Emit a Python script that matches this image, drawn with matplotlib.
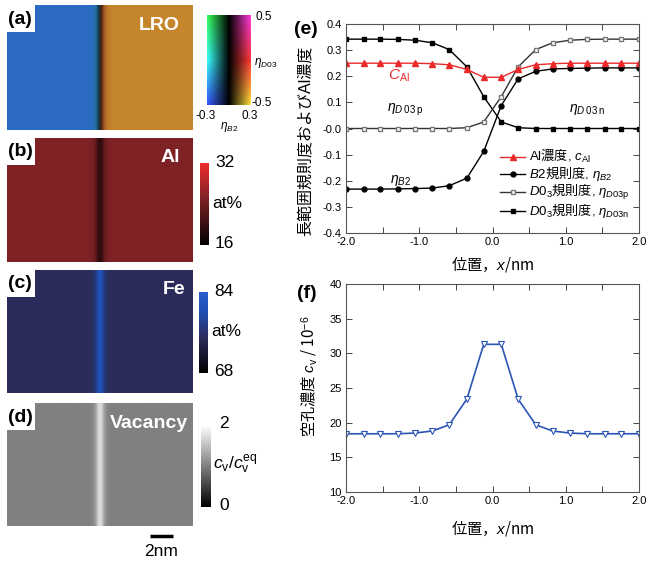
import numpy as np
import matplotlib
matplotlib.use('Agg')
import matplotlib.pyplot as plt
from matplotlib.colors import LinearSegmentedColormap, hsv_to_rgb
from matplotlib.patches import Rectangle
import matplotlib.transforms as mtransforms

plt.rcParams['font.family'] = ['Liberation Sans', 'Noto Sans CJK JP', 'DejaVu Sans']
plt.rcParams['mathtext.fontset'] = 'custom'
plt.rcParams['mathtext.rm'] = 'Liberation Sans'
plt.rcParams['mathtext.it'] = 'Liberation Sans:italic'
plt.rcParams['mathtext.bf'] = 'Liberation Sans:bold'
plt.rcParams['mathtext.sf'] = 'Noto Sans CJK JP'  # Japanese words inside math strings
plt.rcParams['axes.unicode_minus'] = False
JP = 'Noto Sans CJK JP'

# profile across the interface (nm)
x_nm = [-2.0, -1.76, -1.53, -1.29, -1.06, -0.82, -0.59, -0.35, -0.12,
        0.12, 0.35, 0.59, 0.82, 1.06, 1.29, 1.53, 1.76, 2.0]
c_al = [0.250, 0.250, 0.250, 0.250, 0.250, 0.248, 0.244, 0.226, 0.196,
        0.196, 0.226, 0.244, 0.248, 0.250, 0.250, 0.250, 0.250, 0.250]
eta_b2 = [-0.232, -0.232, -0.232, -0.231, -0.230, -0.228, -0.219, -0.190, -0.088,
          0.088, 0.190, 0.219, 0.228, 0.230, 0.231, 0.232, 0.232, 0.232]
eta_d03n = [0.342, 0.342, 0.342, 0.341, 0.338, 0.328, 0.302, 0.236, 0.122,
            0.025, 0.003, 0.0, 0.0, 0.0, 0.0, 0.0, 0.0, 0.0]
eta_d03p = [0.0, 0.0, 0.0, 0.0, 0.0, 0.0, 0.0, 0.003, 0.025,
            0.122, 0.236, 0.302, 0.328, 0.338, 0.341, 0.342, 0.342, 0.342]
c_vac = [18.4, 18.4, 18.4, 18.4, 18.5, 18.8, 19.7, 23.4, 31.3,
         31.3, 23.4, 19.7, 18.8, 18.5, 18.4, 18.4, 18.4, 18.4]  # x10^-6

W, H = 648, 562
fig = plt.figure(figsize=(W / 100, H / 100), dpi=100)


def px_axes(l, t, r, b):
    return fig.add_axes([l / W, 1 - b / H, (r - l) / W, (b - t) / H])


def ftext(x, y, s, **kw):
    fig.text(x / W, 1 - y / H, s, **kw)


# ---- maps (a)-(d): profile stretched over a 16 nm wide field ----
pad = 26
step = (x_nm[-1] - x_nm[0]) / (len(x_nm) - 1)
ext = [x_nm[0] - (pad + 0.5) * step, x_nm[-1] + (pad + 0.5) * step, 0, 1]


def strip(vals):
    row = np.pad(np.asarray(vals, float), pad, mode='edge')
    return np.tile(row, (4, 1))


def lro_rgb(b2, d03):
    y = np.clip(np.asarray(d03) / 0.58, -1, 1)
    b2 = np.asarray(b2)
    hue = (np.where(b2 < 0, 180 - 60 * y, 360 - 60 * y) % 360) / 360
    val = np.clip(np.abs(b2) / 0.30, 0, 1)
    sat = np.full_like(hue, 0.78)
    return hsv_to_rgb(np.stack([hue, sat, val], -1))


cmap_al = LinearSegmentedColormap.from_list(
    'al', [(0, '#000000'), (0.56, '#7d2226'), (1, '#ee2c2c')])
cmap_fe = LinearSegmentedColormap.from_list(
    'fe', [(0, '#000000'), (0.44, '#2c2c5c'), (0.78, '#1f50b8'), (1, '#2a5cc8')])

boxes = [(7, 5, 193, 130), (7, 138, 193, 262), (7, 270, 193, 393), (7, 403, 193, 526)]
names = ['LRO', 'Al', 'Fe', 'Vacancy']
name_x = [0.93, 0.93, 0.96, 0.975]
map_axes = []
for i, bx in enumerate(boxes):
    ax = px_axes(*bx)
    map_axes.append(ax)
    ax.set_xticks([])
    ax.set_yticks([])
    for s in ax.spines.values():
        s.set_visible(False)

d03 = -(np.asarray(eta_d03p) + np.asarray(eta_d03n))
map_axes[0].imshow(lro_rgb(strip(eta_b2), strip(d03)), extent=ext, aspect='auto',
                   interpolation='bilinear')
im_al = map_axes[1].imshow(strip(np.asarray(c_al) * 100), extent=ext, aspect='auto',
                           cmap=cmap_al, vmin=16, vmax=32, interpolation='bilinear')
im_fe = map_axes[2].imshow(strip(100 - np.asarray(c_al) * 100), extent=ext, aspect='auto',
                           cmap=cmap_fe, vmin=68, vmax=84, interpolation='bilinear')
im_v = map_axes[3].imshow(strip(np.asarray(c_vac) / c_vac[0]), extent=ext, aspect='auto',
                          cmap='gray', vmin=0, vmax=2, interpolation='bilinear')

for i, ax in enumerate(map_axes):
    ax.set_xlim(-8, 8)
    ax.set_ylim(0, 1)
    hb = boxes[i][3] - boxes[i][1]
    ax.add_patch(Rectangle((0, 1 - 27 / hb), 28 / 186, 27 / hb, transform=ax.transAxes,
                           facecolor='white', edgecolor='none', zorder=3))
    ax.text(0.005, 1 - 14 / hb, '(%s)' % 'abcd'[i], transform=ax.transAxes,
            fontsize=14, fontweight='bold', ha='left', va='center', zorder=4)
    ax.text(name_x[i], 1 - 20 / hb, names[i], transform=ax.transAxes, color='white',
            fontsize=14, fontweight='bold', ha='right', va='center')

# scale bar
tr = mtransforms.blended_transform_factory(map_axes[3].transData, map_axes[3].transAxes)
map_axes[3].plot([4.3, 6.3], [-0.08, -0.08], color='black', lw=2.5, transform=tr,
                 clip_on=False, solid_capstyle='butt')
ftext(161, 551, '2nm', fontsize=12.5, ha='center', va='center')

# 2D key for (a)
kax = px_axes(207, 15, 251, 105)
gx, gy = np.meshgrid(np.linspace(-0.3, 0.3, 120), np.linspace(0.5, -0.5, 200))
kax.imshow(lro_rgb(gx, gy), extent=[-0.3, 0.3, -0.5, 0.5], aspect='auto')
kax.set_xticks([])
kax.set_yticks([])
for s in kax.spines.values():
    s.set_visible(False)
ftext(256, 17, '0.5', fontsize=8.5, va='center')
ftext(251, 103, '-0.5', fontsize=8.5, va='center')
ftext(254, 63, r'$\eta_{D03}$', fontsize=8.5, va='center')
ftext(206, 116, '-0.3', fontsize=8.5, ha='center', va='center')
ftext(250, 116, '0.3', fontsize=8.5, ha='center', va='center')
ftext(229, 127, r'$\eta_{B2}$', fontsize=8.5, ha='center', va='center')

# colorbars (b)-(d)
cb_boxes = [(200, 163, 209, 245), (199, 292, 208, 373), (201, 425, 211, 507)]
cb_ims = [im_al, im_fe, im_v]
cb_txt = [('32', '16', 'at%'), ('84', '68', 'at%'), ('2', '0', r'$c_{\rm v}/c_{\rm v}^{\rm eq}$')]
for bx, im, (hi, lo, mid) in zip(cb_boxes, cb_ims, cb_txt):
    cax = px_axes(*bx)
    cb = fig.colorbar(im, cax=cax)
    cb.set_ticks([])
    cb.outline.set_visible(False)
    nx = bx[2] + 6 if len(hi) == 2 else bx[2] + 8
    ftext(nx, bx[1] - 1, hi, fontsize=12.5, va='center')
    ftext(nx, bx[3] - 1, lo, fontsize=12.5, va='center')
    if mid == 'at%':
        ftext(bx[2] + 3, (bx[1] + bx[3]) / 2 - 1, mid, fontsize=12.5, va='center')
    else:
        ftext(bx[2] + 2, (bx[1] + bx[3]) / 2 - 1, mid, fontsize=12.5, va='center')


# ---- line plots ----
def style_axes(ax):
    ax.tick_params(direction='in', top=True, right=True, length=4, width=0.7,
                   labelsize=8, pad=3, color='#444444')
    ax.tick_params(which='minor', direction='in', top=True, right=True, length=4,
                   width=0.7, color='#444444')
    for s in ax.spines.values():
        s.set_color('#555555')
        s.set_linewidth(0.8)
    ax.set_xlim(-2, 2)
    ax.set_xticks([-2, -1, 0, 1, 2])
    ax.set_xticklabels(['-2.0', '-1.0', '0.0', '1.0', '2.0'])
    ax.set_xticks([-1.5, -0.5, 0.5, 1.5], minor=True)


ax_e = px_axes(346, 24, 639, 233)
style_axes(ax_e)
ax_e.plot(x_nm, eta_d03n, color='black', lw=1, marker='s', ms=3.5,
          label=r'$D$0$_3\mathsf{規則度}$, $\eta_{D03\rm n}$')
ax_e.plot(x_nm, eta_d03p, color='#333333', lw=1, marker='s', ms=3.5, mfc='white',
          mec='#777777', label=r'$D$0$_3\mathsf{規則度}$, $\eta_{D03\rm p}$')
ax_e.plot(x_nm, eta_b2, color='black', lw=1, marker='o', ms=3.5,
          label=r'$B$2$\mathsf{規則度}$, $\eta_{B2}$')
ax_e.plot(x_nm, c_al, color='#ea2a2a', lw=1, marker='^', ms=4,
          label=r'Al$\mathsf{濃度}$, $c_{\rm Al}$')
ax_e.set_ylim(-0.4, 0.4)
ax_e.set_yticks(np.arange(-0.4, 0.41, 0.1))
ax_e.set_yticklabels(['%.1f' % v for v in np.arange(-0.4, 0.41, 0.1)])
h, l = ax_e.get_legend_handles_labels()
ax_e.legend(h[::-1], l[::-1], loc='upper left', bbox_to_anchor=(0.526, 0.405),
            frameon=False, fontsize=9.5, handlelength=1.9,
            handletextpad=0.3, labelspacing=0.0, borderpad=0, borderaxespad=0)
ax_e.text(-1.28, 0.2, r'$C_{\rm Al}$', color='#ea2a2a', fontsize=11,
          ha='center', va='center')
ax_e.text(-1.19, 0.072, r'$\eta_{D\,0\,3\,\rm p}$', fontsize=10, ha='center', va='center')
ax_e.text(1.29, 0.072, r'$\eta_{D\,0\,3\,\rm n}$', fontsize=10, ha='center', va='center')
ax_e.text(-1.26, -0.2, r'$\eta_{B2}$', fontsize=10, ha='center', va='center')
ax_e.set_xlabel('位置，$x$/nm', fontsize=11, family=JP)
ax_e.xaxis.set_label_coords(0.5, -0.1)
ax_e.set_ylabel('長範囲規則度およびAl濃度', fontsize=11.5)
ax_e.yaxis.set_label_coords(-0.115, 0.44)

ax_f = px_axes(346, 284, 639, 492)
style_axes(ax_f)
ax_f.plot(x_nm, c_vac, color='#2b55b5', lw=1.2, marker='v', ms=4, mfc='white',
          mec='#2b55b5', mew=0.8)
ax_f.set_ylim(10, 40)
ax_f.set_yticks(np.arange(10, 41, 5))
ax_f.set_xlabel('位置，$x$/nm', fontsize=11, family=JP)
ax_f.xaxis.set_label_coords(0.5, -0.125)
ax_f.set_ylabel(r'空孔濃度 $c_{\rm v}$ / 10$^{-6}$', fontsize=11, family=JP)
ax_f.yaxis.set_label_coords(-0.09, 0.558)

ftext(306, 29, '(e)', fontsize=14, fontweight='bold', ha='center', va='center')
ftext(307, 293, '(f)', fontsize=14, fontweight='bold', ha='center', va='center')

fig.savefig('out.png', dpi=100)
